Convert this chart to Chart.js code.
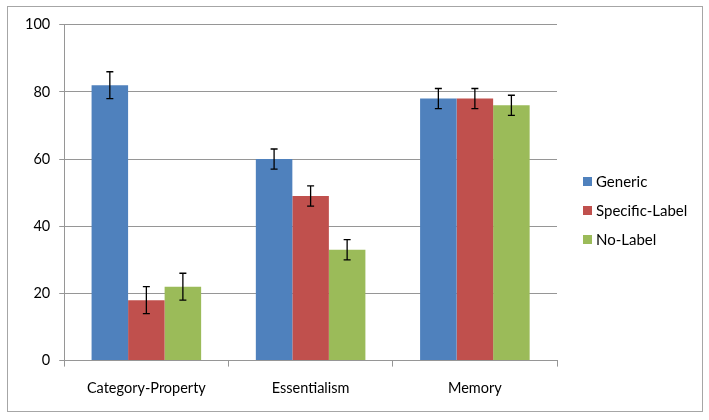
<!DOCTYPE html>
<html>
<head>
<meta charset="utf-8">
<script src="https://cdn.jsdelivr.net/npm/chart.js@4"></script>
<style>
  body { margin: 0; background: #fff; }
  #frame {
    position: absolute; left: 7px; top: 6px;
    width: 694px; height: 404px;
    border: 1px solid #a6a6a6;
  }
</style>
</head>
<body>
<div id="frame"><canvas id="chart" width="694" height="404"></canvas></div>
<script>
// Values
const categories = ["Category-Property", "Essentialism", "Memory"];
const genericVals = [82, 60, 78];
const specificVals = [18, 49, 78];
const noLabelVals = [22, 33, 76];
const genericErr = [4, 3, 3];
const specificErr = [4, 3, 3];
const noLabelErr = [4, 3, 3];
const yTicks = [0, 20, 40, 60, 80, 100];

const errors = [genericErr, specificErr, noLabelErr];
const font = { family: "Lato, 'Open Sans', sans-serif", size: 14.5 };
const legendFont = { family: "Lato, 'Open Sans', sans-serif", size: 15 };

// Draw error bars on top of each bar
const errorBars = {
  id: "errorBars",
  afterDatasetsDraw(chart) {
    const ctx = chart.ctx;
    const y = chart.scales.y;
    ctx.save();
    ctx.strokeStyle = "#000";
    ctx.lineWidth = 1.3;
    chart.data.datasets.forEach((ds, i) => {
      const meta = chart.getDatasetMeta(i);
      meta.data.forEach((bar, j) => {
        const v = ds.data[j];
        const e = errors[i][j];
        const top = y.getPixelForValue(v + e);
        const bot = y.getPixelForValue(v - e);
        const cap = 3.5;
        ctx.beginPath();
        ctx.moveTo(bar.x, top);
        ctx.lineTo(bar.x, bot);
        ctx.moveTo(bar.x - cap, top);
        ctx.lineTo(bar.x + cap, top);
        ctx.moveTo(bar.x - cap, bot);
        ctx.lineTo(bar.x + cap, bot);
        ctx.stroke();
      });
    });
    ctx.restore();
  },
};

// Excel-style legend to the right of the plot
const sideLegend = {
  id: "sideLegend",
  afterDraw(chart) {
    const ctx = chart.ctx;
    const x = chart.chartArea.right + 26;
    const rowGap = 29;
    const n = chart.data.datasets.length;
    const y0 = chart.height / 2 + 2 - rowGap * (n - 1) / 2;
    ctx.save();
    ctx.font = legendFont.size + "px " + legendFont.family;
    ctx.textBaseline = "middle";
    chart.data.datasets.forEach((ds, i) => {
      const yy = y0 + i * rowGap;
      ctx.fillStyle = ds.backgroundColor;
      ctx.fillRect(x, yy - 5, 9, 9);
      ctx.fillStyle = "#000";
      ctx.fillText(ds.label, x + 13, yy);
    });
    ctx.restore();
  },
};

new Chart(document.getElementById("chart"), {
  type: "bar",
  data: {
    labels: categories,
    datasets: [
      { label: "Generic", data: genericVals, backgroundColor: "#4F81BD" },
      { label: "Specific-Label", data: specificVals, backgroundColor: "#C0504D" },
      { label: "No-Label", data: noLabelVals, backgroundColor: "#9BBB59" },
    ],
  },
  options: {
    responsive: false,
    animation: false,
    layout: { padding: { top: 11, left: 8, right: 145, bottom: 1 } },
    datasets: { bar: { categoryPercentage: 0.667, barPercentage: 1 } },
    plugins: {
      legend: { display: false },
      tooltip: { enabled: false },
    },
    scales: {
      x: {
        grid: { drawOnChartArea: false, tickLength: 6, color: "#969696" },
        border: { color: "#969696" },
        ticks: { color: "#000", font: font, padding: 13 },
      },
      y: {
        min: 0,
        max: 100,
        afterBuildTicks: (axis) => { axis.ticks = yTicks.map((v) => ({ value: v })); },
        grid: { color: "#969696", tickLength: 5 },
        border: { color: "#969696" },
        ticks: { color: "#000", font: font, padding: 9 },
      },
    },
  },
  plugins: [errorBars, sideLegend],
});
</script>
</body>
</html>
